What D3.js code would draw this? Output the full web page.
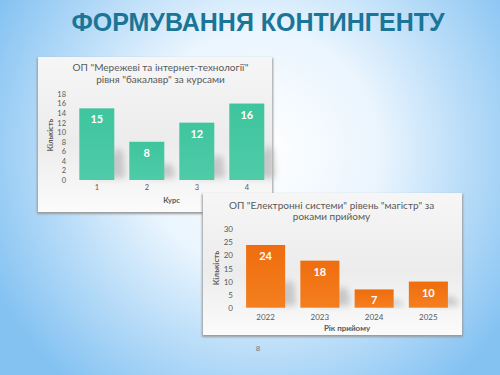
<!DOCTYPE html>
<html><head><meta charset="utf-8">
<script src="https://cdn.jsdelivr.net/npm/d3@7"></script>
<style>html,body{margin:0;padding:0;overflow:hidden;}svg{display:block;}</style>
</head><body>
<script>
const courses = ["1","2","3","4"];
const courseValues = [15, 8, 12, 16];
const courseTicks = [0,2,4,6,8,10,12,14,16,18];
const years = ["2022","2023","2024","2025"];
const yearValues = [24, 18, 7, 10];
const yearTicks = [0,5,10,15,20,25,30];

const W = 500, H = 375;
const svg = d3.select("body").append("svg").attr("width", W).attr("height", H);
const defs = svg.append("defs");

const bg = defs.append("radialGradient").attr("id","bg").attr("gradientUnits","userSpaceOnUse")
  .attr("cx",260).attr("cy",150).attr("r",300);
bg.append("stop").attr("offset","0%").attr("stop-color","#ffffff");
bg.append("stop").attr("offset","40%").attr("stop-color","#eaf5fe");
bg.append("stop").attr("offset","100%").attr("stop-color","#84c2f2");
svg.append("rect").attr("width",W).attr("height",H).attr("fill","url(#bg)");

const boxG = defs.append("linearGradient").attr("id","box").attr("x1",0).attr("y1",0).attr("x2",0).attr("y2",1);
boxG.append("stop").attr("offset","0%").attr("stop-color","#f6f6f6");
boxG.append("stop").attr("offset","55%").attr("stop-color","#ececec");
boxG.append("stop").attr("offset","100%").attr("stop-color","#fbfbfb");

const teal = defs.append("linearGradient").attr("id","teal").attr("x1",0).attr("y1",0).attr("x2",0).attr("y2",1);
teal.append("stop").attr("offset","0%").attr("stop-color","#3ec59e");
teal.append("stop").attr("offset","100%").attr("stop-color","#4fcba8");
const orange = defs.append("linearGradient").attr("id","orange").attr("x1",0).attr("y1",0).attr("x2",0).attr("y2",1);
orange.append("stop").attr("offset","0%").attr("stop-color","#ef6d0e");
orange.append("stop").attr("offset","100%").attr("stop-color","#f47f1f");

const blur = defs.append("filter").attr("id","blur").attr("x","-50%").attr("y","-50%").attr("width","200%").attr("height","200%");
blur.append("feGaussianBlur").attr("stdDeviation",3);
const boxSh = defs.append("filter").attr("id","boxsh").attr("x","-10%").attr("y","-10%").attr("width","120%").attr("height","130%");
boxSh.append("feGaussianBlur").attr("stdDeviation",1.2);

// Title
svg.append("text").attr("x",258).attr("y",31).attr("text-anchor","middle")
  .attr("font-family","Liberation Sans, Arial, sans-serif").attr("font-weight","bold")
  .attr("font-size",25).attr("fill","#1b7596").text("ФОРМУВАННЯ КОНТИНГЕНТУ");

function chart(opts){
  const g = svg.append("g");
  const b = opts.box;
  g.append("rect").attr("x",b[0]-1).attr("y",b[1]+1).attr("width",b[2]-b[0]+2).attr("height",b[3]-b[1]+1)
    .attr("fill","#9a9a9a").attr("filter","url(#boxsh)");
  g.append("rect").attr("x",b[0]).attr("y",b[1]).attr("width",b[2]-b[0]).attr("height",b[3]-b[1])
    .attr("fill","url(#box)");
  const x = d3.scaleBand().domain(opts.cats).range(opts.xr).paddingInner(opts.pad).paddingOuter(opts.pad/2);
  const y = d3.scaleLinear().domain([0, opts.max]).range(opts.yr);
  // shadows
  g.selectAll(".sh").data(opts.vals).join("path")
    .attr("d",(d,i)=>{
      const x0 = x(opts.cats[i]) + x.bandwidth()*0.4, x1 = x(opts.cats[i]) + x.bandwidth() + 9;
      const yt = y(d*0.45), yb = y(0)-2;
      return `M${x0},${yb} L${x1-6},${yt} L${x1},${yt+4} L${x1+2},${yb} Z`;
    })
    .attr("fill","#b5b5b5").attr("opacity",0.7).attr("filter","url(#blur)");
  g.selectAll(".bar").data(opts.vals).join("rect")
    .attr("x",(d,i)=>x(opts.cats[i])).attr("width",x.bandwidth())
    .attr("y",d=>y(d)).attr("height",d=>y(0)-y(d)).attr("fill",opts.fill);
  g.selectAll(".lab").data(opts.vals).join("text")
    .attr("x",(d,i)=>x(opts.cats[i])+x.bandwidth()/2).attr("y",d=>y(d)+opts.labOff)
    .attr("text-anchor","middle").attr("font-family","Lato, Open Sans, sans-serif").attr("font-weight","bold")
    .attr("font-size",opts.labSize).attr("fill","#ffffff").text(d=>d);
  const ya = d3.axisLeft(y).tickValues(opts.ticks).tickSize(0).tickPadding(0);
  const yg = g.append("g").attr("transform",`translate(${opts.yAxisX},0)`).call(ya);
  yg.select(".domain").remove();
  yg.selectAll("text").attr("font-family","Lato, Open Sans, sans-serif").attr("font-size",opts.tickSize).attr("fill","#595959");
  const xa = d3.axisBottom(x).tickSize(0).tickPadding(0);
  const xg = g.append("g").attr("transform",`translate(0,${opts.xAxisY})`).call(xa);
  xg.select(".domain").remove();
  xg.selectAll("text").attr("font-family","Lato, Open Sans, sans-serif").attr("font-size",opts.xtickSize).attr("fill","#595959");
  opts.title.forEach((t,i)=>{
    g.append("text").attr("x",opts.titleX).attr("y",opts.titleY + i*opts.titleLH).attr("text-anchor","middle")
      .attr("font-family","Lato, Open Sans, sans-serif").attr("font-size",opts.titleSize).attr("fill","#595959").text(t);
  });
  g.append("text").attr("x",opts.xTitle[0]).attr("y",opts.xTitle[1]).attr("text-anchor","middle")
    .attr("font-family","Lato, Open Sans, sans-serif").attr("font-weight","bold").attr("font-size",opts.axTitleSize)
    .attr("fill","#595959").text(opts.xLabel);
  g.append("text").attr("transform",`translate(${opts.yTitle[0]},${opts.yTitle[1]}) rotate(-90)`).attr("text-anchor","middle")
    .attr("font-family","Lato, Open Sans, sans-serif").attr("font-weight","bold").attr("font-size",opts.axTitleSize)
    .attr("fill","#595959").text("Кількість");
}

chart({
  box:[38,57,272,212], cats:courses, vals:courseValues, max:18, ticks:courseTicks,
  xr:[71.8,271.8], pad:0.3, yr:[180,94], fill:"url(#teal)", labOff:15, labSize:11,
  yAxisX:66, tickSize:7.5, xAxisY:185, xtickSize:7.5,
  title:['ОП "Мережеві та інтернет-технології"','рівня "бакалавр" за курсами'], titleX:160.5, titleY:71, titleLH:12, titleSize:10,
  xTitle:[171.5,203], xLabel:"Курс", yTitle:[53,135], axTitleSize:7.5
});
chart({
  box:[203,193,462,335], cats:years, vals:yearValues, max:30, ticks:yearTicks,
  xr:[238.5,455.5], pad:0.28, yr:[307.7,229.3], fill:"url(#orange)", labOff:15, labSize:11,
  yAxisX:233, tickSize:8, xAxisY:314, xtickSize:8,
  title:['ОП "Електронні системи" рівень "магістр" за','роками прийому'], titleX:331.5, titleY:208.5, titleLH:11.5, titleSize:10,
  xTitle:[347,331], xLabel:"Рік прийому", yTitle:[219,268], axTitleSize:8
});

svg.append("text").attr("x",258).attr("y",351).attr("text-anchor","middle")
  .attr("font-family","Liberation Sans, Arial, sans-serif").attr("font-size",8).attr("fill","#777").text("8");
</script>
</body></html>
